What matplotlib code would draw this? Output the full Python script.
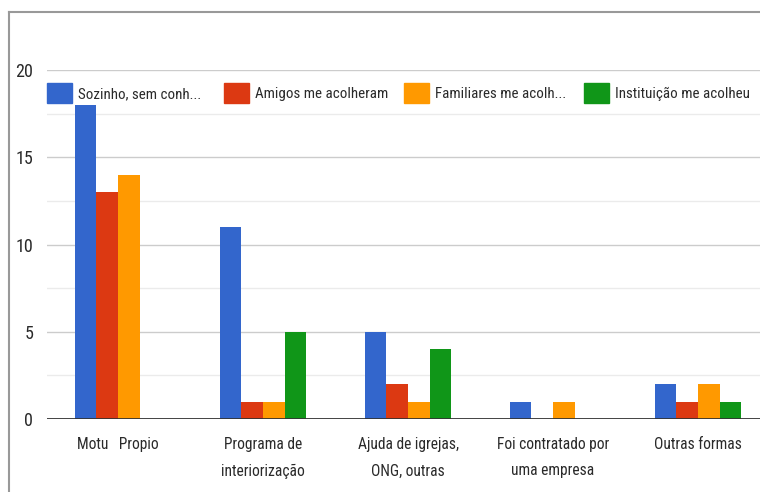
import matplotlib
matplotlib.use("Agg")
import matplotlib.pyplot as plt
import numpy as np
from matplotlib.lines import Line2D
from matplotlib.patches import Rectangle
from matplotlib import font_manager

names = {f.name for f in font_manager.fontManager.ttflist}
FAM = ['Roboto Condensed', 'Liberation Sans Narrow', 'Roboto', 'DejaVu Sans']
FAM = [f for f in FAM if f in names] or ['DejaVu Sans']
plt.rcParams['font.family'] = FAM

categories = ["Motu   Propio", "Programa de\ninteriorização", "Ajuda de igrejas,\nONG, outras",
              "Foi contratado por\numa empresa", "Outras formas"]
series_names = ["Sozinho, sem conh...", "Amigos me acolheram", "Familiares me acolh...",
                "Instituição me acolheu"]
sozinho = [18, 11, 5, 1, 2]
amigos = [13, 1, 2, 0, 1]
familiares = [14, 1, 1, 1, 2]
instituicao = [0, 5, 4, 0, 1]
series = [sozinho, amigos, familiares, instituicao]
colors = ["#3366cc", "#dc3912", "#ff9900", "#109618"]
yticks = [0, 5, 10, 15, 20]

W, H = 760, 492
fig = plt.figure(figsize=(W / 100, H / 100), dpi=100)
ax_l, ax_r = 47, 769
ax_t, ax_b = 70, 419
ax = fig.add_axes([ax_l / W, (H - ax_b) / H, (ax_r - ax_l) / W, (ax_b - ax_t) / H])

x = np.arange(len(categories))
bw = 0.151
for i, (vals, c) in enumerate(zip(series, colors)):
    ax.bar(x + (i - 1.5) * bw, vals, width=bw * 0.97, color=c, zorder=3)

ax.set_xlim(-0.49, len(categories) - 1 + 0.49)
ax.set_ylim(0, 20)
ax.set_yticks(yticks)
ax.set_yticks([2.5, 7.5, 12.5, 17.5], minor=True)
ax.grid(axis='y', which='major', color='#cccccc', lw=1, zorder=0)
ax.grid(axis='y', which='minor', color='#ebebeb', lw=1, zorder=0)
ax.axhline(0, color='#333333', lw=2, zorder=4)
for s in ax.spines.values():
    s.set_visible(False)
ax.tick_params(axis='both', which='both', length=0)
ax.tick_params(axis='y', labelsize=13, colors='#2a2a2a', pad=10)
ax.set_xticks(x)
ax.set_xticklabels(categories, fontsize=11.2, color='#2a2a2a', linespacing=1.95)
ax.tick_params(axis='x', pad=13)

# legend
leg_x = [47, 224, 404, 584]
for lx, name, c in zip(leg_x, series_names, colors):
    fig.patches.append(Rectangle((lx / W, (H - 103) / H), 25 / W, 20 / H,
                                 transform=fig.transFigure, color=c))
    fig.text((lx + 31) / W, (H - 94) / H, name, fontsize=10.8, color='#2a2a2a',
             va='center', ha='left')

# frame border (cropped)
fig.add_artist(Line2D([9 / W, 9 / W], [0, (H - 12) / H], color='#999999', lw=1.5,
                      transform=fig.transFigure))
fig.add_artist(Line2D([9 / W, 1], [(H - 12) / H, (H - 12) / H], color='#999999', lw=1.5,
                      transform=fig.transFigure))

fig.savefig("out.png", dpi=100)
